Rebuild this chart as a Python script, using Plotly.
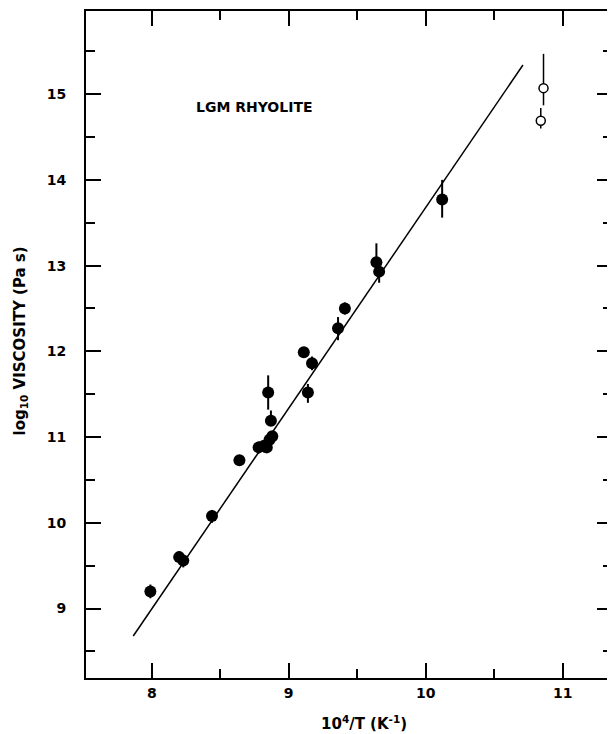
import plotly.graph_objects as go

# Filled points: 10^4/T and log10 viscosity with asymmetric error bars
x_filled = [7.99, 8.20, 8.23, 8.44, 8.64, 8.78, 8.82, 8.84, 8.86, 8.88, 8.87, 8.85,
            9.11, 9.14, 9.17, 9.36, 9.41, 9.64, 9.66, 10.12]
y_filled = [9.20, 9.60, 9.56, 10.08, 10.73, 10.88, 10.90, 10.88, 10.97, 11.01, 11.19, 11.52,
            11.99, 11.52, 11.86, 12.27, 12.50, 13.04, 12.93, 13.77]
err_up = [0.08, 0.07, 0.05, 0.07, 0.06, 0.07, 0.05, 0.06, 0.06, 0.06, 0.12, 0.20,
          0.06, 0.10, 0.08, 0.13, 0.07, 0.22, 0.05, 0.23]
err_dn = [0.08, 0.05, 0.08, 0.08, 0.06, 0.07, 0.08, 0.06, 0.06, 0.06, 0.05, 0.20,
          0.06, 0.12, 0.08, 0.14, 0.07, 0.05, 0.13, 0.21]

# Open points
x_open = [10.86, 10.84]
y_open = [15.07, 14.69]
open_up = [0.40, 0.15]
open_dn = [0.20, 0.09]

# Fitted line endpoints
fit_x = [7.865, 10.71]
fit_y = [8.68, 15.34]

x_ticks = [8, 9, 10, 11]
y_ticks = [9, 10, 11, 12, 13, 14, 15]

FONT = "DejaVu Sans"

fig = go.Figure()
fig.add_trace(go.Scatter(x=fit_x, y=fit_y, mode="lines",
                         line=dict(color="black", width=1.5), showlegend=False))
fig.add_trace(go.Scatter(
    x=x_filled, y=y_filled, mode="markers",
    marker=dict(size=12, color="black"),
    error_y=dict(type="data", symmetric=False, array=err_up, arrayminus=err_dn,
                 color="black", thickness=2, width=0),
    showlegend=False))
fig.add_trace(go.Scatter(
    x=x_open, y=y_open, mode="markers",
    marker=dict(size=9, color="white", line=dict(color="black", width=1.5)),
    error_y=dict(type="data", symmetric=False, array=open_up, arrayminus=open_dn,
                 color="black", thickness=1.5, width=0),
    showlegend=False))

axis_common = dict(showgrid=False, zeroline=False, showline=True, linecolor="black",
                   linewidth=2, mirror="allticks", ticks="inside", ticklen=15,
                   tickwidth=2, tickcolor="black",
                   tickfont=dict(family=FONT, size=14, color="black", weight="bold"),
                   minor=dict(ticks="inside", ticklen=9, tickwidth=2, tickcolor="black", dtick=0.5))

fig.update_xaxes(range=[7.52, 11.36], tickvals=x_ticks, ticktext=[str(v) for v in x_ticks],
                 ticklabelstandoff=1, **axis_common)
fig.update_yaxes(range=[8.19, 15.97], tickvals=y_ticks, ticktext=[str(v) for v in y_ticks],
                 ticklabelstandoff=15, **axis_common)
fig.update_xaxes(minor=dict(tick0=7.5))
fig.update_yaxes(minor=dict(tick0=8.5))

fig.add_annotation(x=8.75, y=14.85, text="LGM RHYOLITE", showarrow=False,
                   font=dict(family=FONT, size=14, color="black", weight="bold"))
fig.add_annotation(xref="paper", yref="paper", x=0.528, y=-0.067, yanchor="middle",
                   text="10<sup>4</sup>/T (K<sup>-1</sup>)", showarrow=False,
                   font=dict(family=FONT, size=15, color="black", weight="bold"))
fig.add_annotation(xref="paper", yref="paper", x=-0.125, y=0.505, textangle=-90,
                   xanchor="center", yanchor="middle",
                   text="log<sub>10</sub> VISCOSITY (Pa s)", showarrow=False,
                   font=dict(family=FONT, size=15, color="black", weight="bold"))

# page body has an 8px default margin; size the figure so the frame lands where the reference has it
fig.update_layout(width=607, height=726, margin=dict(l=78, r=3, t=1, b=56),
                  plot_bgcolor="white", paper_bgcolor="white")

fig.write_html("out.html")
